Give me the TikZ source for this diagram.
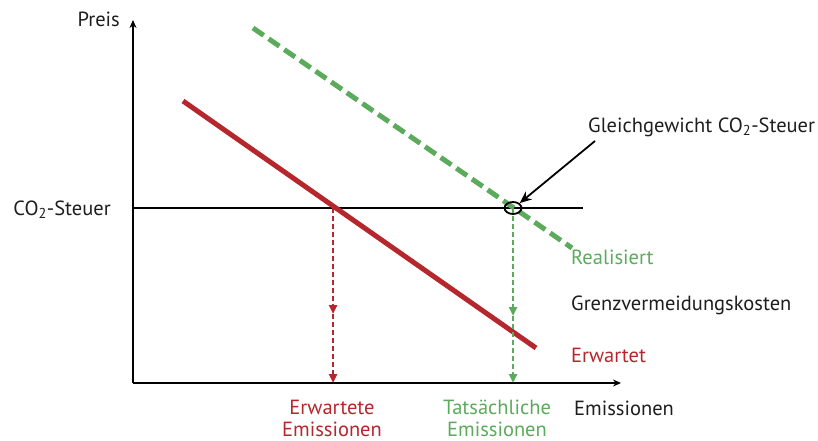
\documentclass[tikz,border=0pt]{standalone}
\usepackage{fontspec}
\setmainfont{PT Sans}
\usetikzlibrary{arrows.meta,shapes.geometric}
\definecolor{cred}{RGB}{181,39,45}
\definecolor{cgreen}{RGB}{92,170,92}
\definecolor{ctext}{RGB}{30,30,30}
\begin{document}
\begin{tikzpicture}[x=1pt,y=-1pt,
  lbl/.style={font=\fontsize{20.5}{22}\selectfont, inner sep=0pt, text=ctext},
  axis/.style={line width=2.2pt, -{Stealth[length=8pt,width=7pt]}},
  vdash/.style={line width=2.4pt, dash pattern=on 5pt off 3pt},
  tip/.style={-{Triangle[length=9pt,width=8pt]}}]
\useasboundingbox (0,0) rectangle (818,441);
% coordinates
\coordinate (O) at (133,383);
\coordinate (ytop) at (133,20);
\coordinate (xend) at (621,383);
\coordinate (tl) at (133,208);
\coordinate (tr) at (583,208);
\coordinate (r1) at (183,101);
\coordinate (r2) at (536,348);
\coordinate (g1) at (253,28);
\coordinate (g2) at (572,248);
\coordinate (ea) at (333,208);
\coordinate (em) at (333,314);
\coordinate (eb) at (333,383);
\coordinate (ta) at (513,208);
\coordinate (tm) at (513,316);
\coordinate (tb) at (513,383);
\coordinate (arrS) at (595,141);
% axes
\draw[axis] (O) -- (ytop);
\draw[axis] (O) -- (xend);
% tax line
\draw[line width=1.8pt] (tl) -- (tr);
% curves
\draw[cred, line width=5pt] (r1) -- (r2);
\draw[cgreen, line width=5pt, dash pattern=on 13pt off 6pt] (g1) -- (g2);
% vertical dashed with arrowheads
\draw[cred, vdash, tip] (ea) -- (em);
\draw[cred, vdash, tip] (em) -- (eb);
\draw[cgreen, vdash, tip] (ta) -- (tm);
\draw[cgreen, vdash, tip] (tm) -- (tb);
% equilibrium marker
\node[draw, line width=1.8pt, ellipse, minimum width=17pt, minimum height=12pt, inner sep=0pt] (eq) at (513,208) {};
\draw[line width=1.8pt, -{Stealth[length=12pt,width=10pt]}] (arrS) -- (eq.north east);
% labels
\node[lbl, anchor=east] (preis) at (120,19) {Preis};
\node[lbl, anchor=east] (co2) at (111,210) {CO\textsubscript{2}-Steuer};
\node[lbl, anchor=west] (gg) at (588,127) {Gleichgewicht CO\textsubscript{2}-Steuer};
\node[lbl, anchor=west, text=cgreen] (real) at (571,257) {Realisiert};
\node[lbl, anchor=west] (gvk) at (571,305) {Grenzvermeidungskosten};
\node[lbl, anchor=west, text=cred] (erw) at (571,355) {Erwartet};
\node[lbl, align=center, text=cred] (ee) at (332,418) {Erwartete\\Emissionen};
\node[lbl, align=center, text=cgreen] (te) at (497,418) {Tatsächliche\\Emissionen};
\node[lbl, anchor=west] (emi) at (574,408) {Emissionen};
\end{tikzpicture}
\end{document}
